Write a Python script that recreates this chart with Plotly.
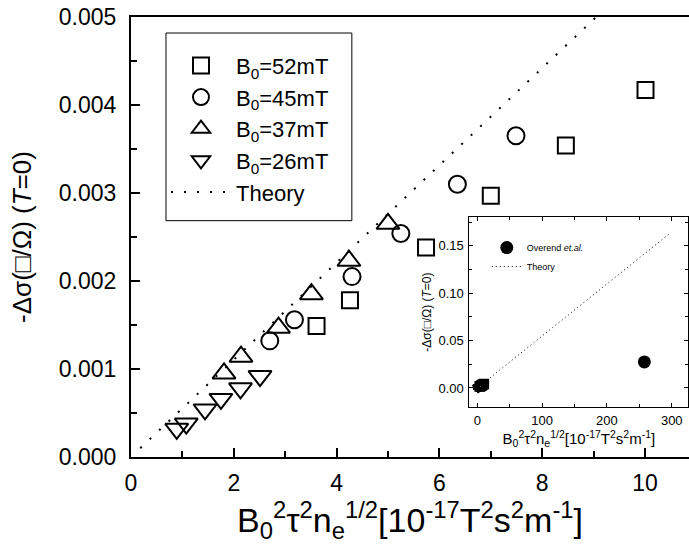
import plotly.graph_objects as go

# ---- main panel data (x in 1e-17 T^2 s^2 m^-1, y = -Δσ) ----
sq_x = [3.61, 4.26, 5.74, 7.00, 8.46, 10.01]
sq_y = [0.00149, 0.00178, 0.00238, 0.00297, 0.00354, 0.00417]
ci_x = [2.70, 3.18, 4.30, 5.25, 6.35, 7.49]
ci_y = [0.00132, 0.00156, 0.00205, 0.00254, 0.00310, 0.00365]
tu_x = [1.81, 2.14, 2.87, 3.51, 4.24, 5.00]
tu_y = [0.00095, 0.00114, 0.00147, 0.00185, 0.00223, 0.00265]
td_x = [0.89, 1.075, 1.44, 1.75, 2.13, 2.51]
td_y = [0.00032, 0.00038, 0.00054, 0.00066, 0.00078, 0.00092]
theory_x = [0.18, 9.05]
theory_y = [0.0001, 0.0050]

# ---- inset data ----
overend_x = [257.7]
overend_y = [0.0275]
inset_theory_x = [0.18, 297.0]
inset_theory_y = [0.0001, 0.163]

series = [
    ("B<sub>0</sub>=52mT", "square-open", sq_x, sq_y, 16),
    ("B<sub>0</sub>=45mT", "circle-open", ci_x, ci_y, 17),
    ("B<sub>0</sub>=37mT", "triangle-up-open", tu_x, tu_y, 20),
    ("B<sub>0</sub>=26mT", "triangle-down-open", td_x, td_y, 20),
]

FONT = "Liberation Sans, Arial, sans-serif"
XTITLE = ("B<sub>0</sub><sup>2</sup>τ<sup>2</sup>n<sub>e</sub><sup>1/2</sup>"
          "[10<sup>-17</sup>T<sup>2</sup>s<sup>2</sup>m<sup>-1</sup>]")
YTITLE = "-Δσ(□/Ω) (<i>T</i>=0)"

fig = go.Figure()

for name, sym, xs, ys, sz in series:
    fig.add_trace(go.Scatter(
        x=xs, y=ys, mode="markers", name=name,
        marker=dict(symbol=sym, size=sz, color="black", line=dict(color="black", width=2)),
        xaxis="x", yaxis="y", legend="legend"))
fig.add_trace(go.Scatter(
    x=theory_x, y=theory_y, mode="lines", name="Theory",
    line=dict(color="black", width=2, dash="2px,11px"), xaxis="x", yaxis="y", legend="legend"))

# inset
fig.add_trace(go.Scatter(
    x=inset_theory_x, y=inset_theory_y, mode="lines", name="Theory",
    line=dict(color="black", width=1, dash="1px,3px"), xaxis="x2", yaxis="y2", legend="legend2"))
for name, sym, xs, ys, sz in series:
    fig.add_trace(go.Scatter(
        x=xs, y=ys, mode="markers", showlegend=False,
        marker=dict(symbol=sym, size=9, color="black", line=dict(color="black", width=1.5)),
        xaxis="x2", yaxis="y2"))
fig.add_trace(go.Scatter(
    x=overend_x, y=overend_y, mode="markers", name="Overend <i>et.al.</i>",
    marker=dict(symbol="circle", size=13, color="black"),
    xaxis="x2", yaxis="y2", legend="legend2"))

axis_common = dict(showgrid=False, zeroline=False, color="black", linecolor="black")

fig.update_layout(
    width=689, height=550,
    margin=dict(l=131, r=0, t=17, b=93),
    paper_bgcolor="white", plot_bgcolor="white",
    font=dict(family=FONT, color="black"),
    xaxis=dict(
        **axis_common, domain=[0, 1], range=[0, 10.856], showline=True, linewidth=2, mirror=True,
        ticks="inside", ticklen=9, tickwidth=2, tickvals=[0, 2, 4, 6, 8, 10],
        ticktext=["0", "2", "4", "6", "8", "10"],
        tickfont=dict(size=23), ticklabelstandoff=4,
        minor=dict(ticks="inside", ticklen=6, tickwidth=2, dtick=1, tick0=0),
        title=dict(text=XTITLE, font=dict(size=34), standoff=4),
        anchor="y"),
    yaxis=dict(
        **axis_common, domain=[0, 1], range=[0, 0.005], showline=True, linewidth=2, mirror=False,
        ticks="inside", ticklen=9, tickwidth=2, tickvals=[0, 0.001, 0.002, 0.003, 0.004, 0.005],
        tickformat=".3f", tickfont=dict(size=23), ticklabelstandoff=8,
        minor=dict(ticks="inside", ticklen=6, tickwidth=2, dtick=0.0005, tick0=0),
        title=dict(text=YTITLE, font=dict(size=26), standoff=20),
        anchor="x"),
    xaxis2=dict(
        **axis_common, domain=[0.6065, 0.9988], range=[-12.3, 325.6], showline=True, linewidth=1,
        mirror="ticks", ticks="inside", ticklen=4, tickwidth=1, tickvals=[0, 100, 200, 300],
        tickfont=dict(size=13), ticklabelstandoff=1,
        minor=dict(ticks="inside", ticklen=3, tickwidth=1, dtick=50, tick0=0),
        title=dict(text=XTITLE, font=dict(size=15), standoff=2),
        anchor="y2"),
    yaxis2=dict(
        **axis_common, domain=[0.1138, 0.5448], range=[-0.02, 0.18], showline=True, linewidth=1,
        mirror="ticks", ticks="inside", ticklen=4, tickwidth=1, tickvals=[0, 0.05, 0.10, 0.15],
        tickformat=".2f", tickfont=dict(size=13), ticklabelstandoff=2,
        minor=dict(ticks="inside", ticklen=3, tickwidth=1, dtick=0.025, tick0=0),
        title=dict(text=YTITLE, font=dict(size=12), standoff=4),
        anchor="x2"),
    legend=dict(
        x=0.0627, y=0.937, xanchor="left", yanchor="top",
        borderwidth=0, bgcolor="rgba(0,0,0,0)",
        font=dict(size=22), itemwidth=60, tracegroupgap=0),
    legend2=dict(
        x=0.6376, y=0.509, xanchor="left", yanchor="top",
        borderwidth=0, bgcolor="rgba(0,0,0,0)", traceorder="reversed",
        font=dict(size=9), itemwidth=30, tracegroupgap=0),
    shapes=[
        dict(type="rect", xref="paper", yref="paper", x0=0.0627, x1=0.3958, y0=0.5371, y1=0.9636,
             line=dict(color="black", width=1), fillcolor="rgba(0,0,0,0)", layer="below"),
        dict(type="rect", xref="paper", yref="paper", x0=0.6358, x1=0.8365, y0=0.406, y1=0.5007,
             line=dict(color="black", width=1), fillcolor="rgba(0,0,0,0)", layer="below"),
    ],
)

fig.write_html("out.html")
